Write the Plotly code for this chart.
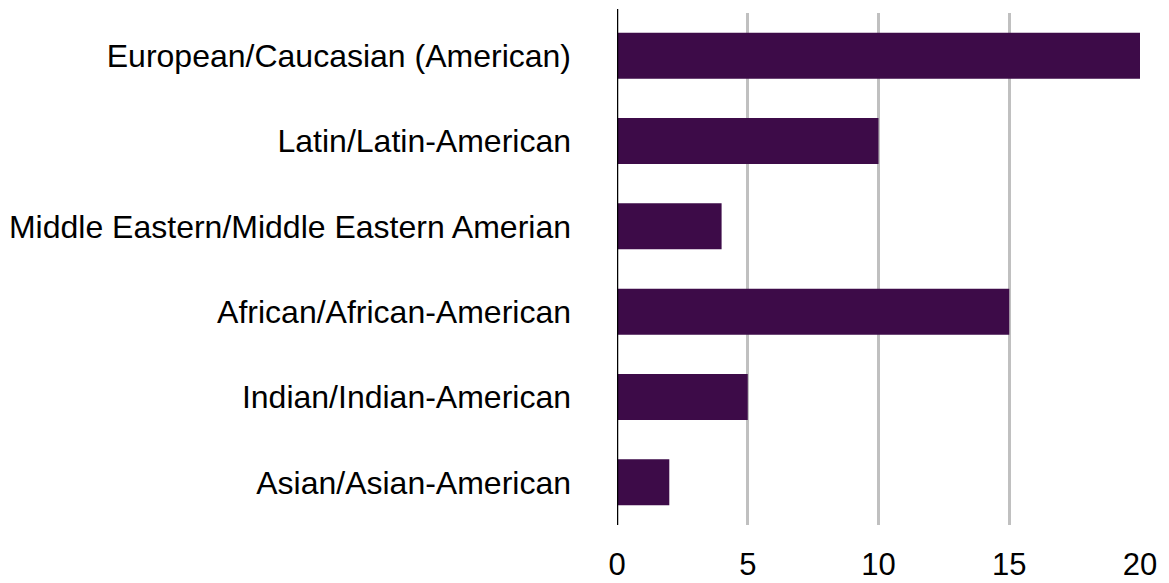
import plotly.graph_objects as go

categories = [
    "Asian/Asian-American",
    "Indian/Indian-American",
    "African/African-American",
    "Middle Eastern/Middle Eastern Amerian",
    "Latin/Latin-American",
    "European/Caucasian (American)",
]
values = [2, 5, 15, 4, 10, 20]
x_ticks = [0, 5, 10, 15, 20]

fig = go.Figure(go.Bar(
    x=values, y=categories, orientation="h",
    marker=dict(color="#3d0b48", line=dict(width=0)),
))

fig.update_layout(
    width=1169, height=583,
    margin=dict(l=617, r=29, t=13, b=58),
    paper_bgcolor="white", plot_bgcolor="white",
    bargap=0.46,
    showlegend=False,
    font=dict(family="Liberation Sans, Arial, Helvetica, sans-serif", size=32, color="black"),
    xaxis=dict(
        range=[0, 20], tickvals=x_ticks, showgrid=True, gridcolor="#c0c0c0", gridwidth=2.5,
        zeroline=False, showline=False, ticks="", ticklabelstandoff=18,
        tickfont=dict(size=31), automargin=False,
    ),
    yaxis=dict(
        showgrid=False, zeroline=False, showline=False, ticks="",
        ticklabelstandoff=45, tickfont=dict(size=32), automargin=False,
    ),
    shapes=[dict(type="line", xref="x", yref="paper", x0=0, x1=0, y0=0, y1=1.008,
                 line=dict(color="black", width=2.5))],
)

# remove the default 8px page margin so the figure fills the window exactly
fig.write_html("out.html", config={"displayModeBar": False},
               post_script="document.body.style.margin='0';")
